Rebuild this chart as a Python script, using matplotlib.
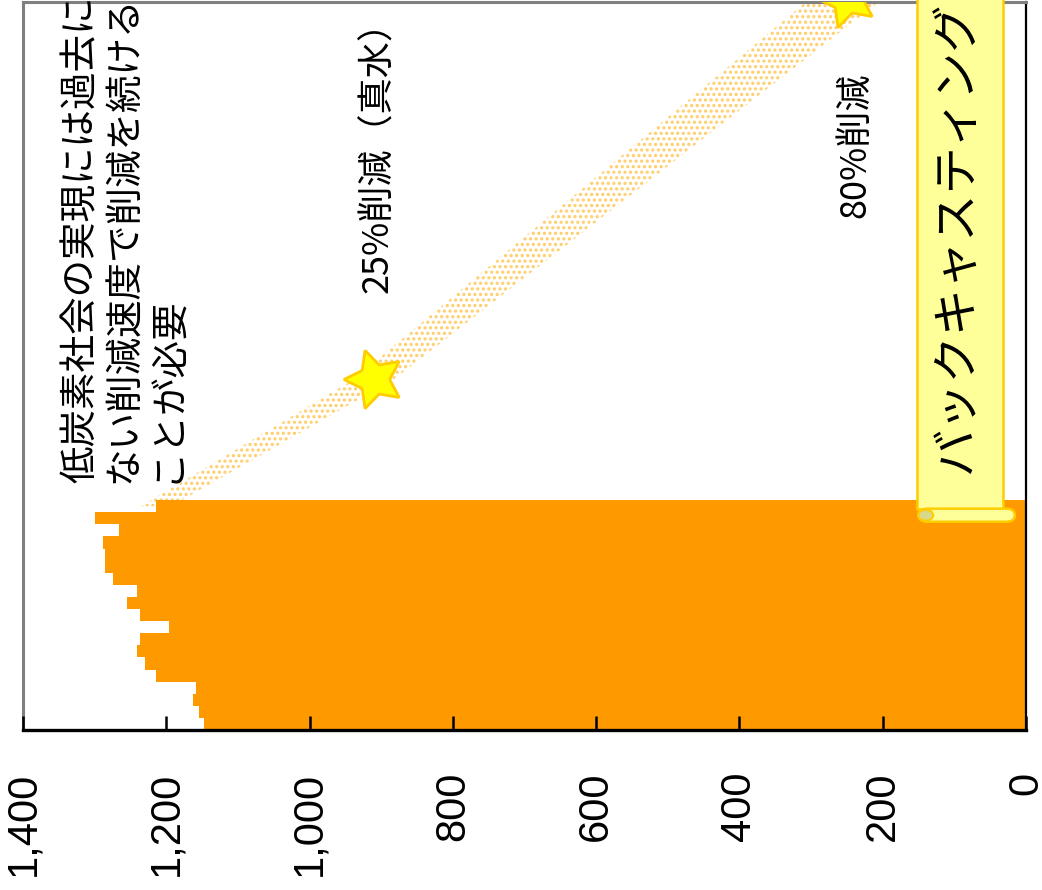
import numpy as np
import matplotlib
matplotlib.use("Agg")
import matplotlib.pyplot as plt
from matplotlib.patches import Rectangle, FancyBboxPatch, Polygon, Circle
from matplotlib.ticker import FuncFormatter

plt.rcParams['font.family'] = ['Liberation Sans', 'Noto Sans CJK JP']
plt.rcParams['hatch.linewidth'] = 1.5

# emissions per year (bars)
years = np.arange(1990, 2009)
emissions = [1147, 1154, 1163, 1158, 1214, 1230, 1241, 1237, 1196, 1237,
             1255, 1241, 1274, 1285, 1285, 1288, 1266, 1300, 1214]

# reduction path: last year -> 25% target -> 80% target
path_years = [2008, 2018.5, 2050]
path_values = [1214, 910, 250]
band_half = [21, 28, 51]

value_ticks = [0, 200, 400, 600, 800, 1000, 1200, 1400]

bar_color = '#FF9900'
dot_color = '#FFCC66'

fig = plt.figure(figsize=(10.42, 8.9), dpi=100)
ax = fig.add_axes([0.022, 0.1798, 0.9626, 0.818])
ax.set_axisbelow(False)

# dotted band along the reduction path
t = np.linspace(path_years[0], path_years[-1], 60)
c = np.interp(t, path_years, path_values)
hw = np.interp(t, path_years, band_half)
pts = np.concatenate([np.column_stack([c + hw, t]),
                      np.column_stack([c - hw, t])[::-1]])
ax.add_patch(Polygon(pts, closed=True, facecolor='none', edgecolor=dot_color,
                     linewidth=0, hatch='...', zorder=1))

ax.barh(years, emissions, height=1.0, color=bar_color, linewidth=0, zorder=2)

# target stars
ax.plot(path_values[1:], path_years[1:], linestyle='none', marker=(5, 1, 90),
        markersize=44, markerfacecolor='#FFFF00', markeredgecolor='#FFCC00',
        markeredgewidth=2, zorder=4)

ax.set_xlim(1400, 0)
ax.set_ylim(1989.5, 2049.7)
ax.set_yticks([])
ax.set_xticks(value_ticks)
ax.xaxis.set_major_formatter(FuncFormatter(lambda v, p: f'{int(v):,}'))
ax.tick_params(axis='x', direction='in', length=10, width=1.8, color='black',
               labelsize=30, pad=30, labelrotation=90)
for lab in ax.get_xticklabels():
    lab.set_va('top')

ax.spines['left'].set_color('#808080')
ax.spines['top'].set_color('#808080')
ax.spines['left'].set_linewidth(2.2)
ax.spines['top'].set_linewidth(2.2)
ax.spines['right'].set_color('black')
ax.spines['right'].set_linewidth(1.6)
ax.spines['bottom'].set_color('black')
ax.spines['bottom'].set_linewidth(2.4)

jp = ['Noto Sans CJK JP', 'DejaVu Sans']

ax.text(0.039, 0.339, '低炭素社会の実現には過去に\nない削減速度で削減を続ける\nことが必要',
        transform=ax.transAxes, rotation=90, ha='left', va='bottom',
        multialignment='left', fontsize=27, family=jp, linespacing=1.14,
        zorder=5)
ax.text(0.336, 0.600, '25%削減（真水）', transform=ax.transAxes, rotation=90,
        ha='left', va='bottom', fontsize=26, family=jp, zorder=5)
ax.text(0.8116, 0.7033, '80%削減', transform=ax.transAxes, rotation=90,
        ha='left', va='bottom', fontsize=26, family=jp, zorder=5)

# scroll banner
ax.add_patch(Rectangle((0.891, 0.3036), 0.086, 0.72, transform=ax.transAxes,
                       facecolor='#FFFF99', edgecolor='#FFCC00', linewidth=1.8,
                       clip_on=False, zorder=5))
ax.add_patch(FancyBboxPatch((0.893, 0.286), 0.096, 0.018,
                            boxstyle='round,pad=0,rounding_size=0.009',
                            transform=ax.transAxes, facecolor='#FFFF99',
                            edgecolor='#FFCC00', linewidth=1.8, clip_on=False,
                            mutation_aspect=1.0, zorder=6))
ax.add_patch(Circle((0.9, 0.295), 0.0075, transform=ax.transAxes,
                    facecolor='#D9D98C', edgecolor='#FFCC00', linewidth=1.5,
                    clip_on=False, zorder=7))
ax.text(0.9315, 0.677, 'バックキャスティング', transform=ax.transAxes, rotation=90,
        ha='center', va='center', fontsize=34, family=jp, zorder=8)

fig.savefig('out.png', dpi=100)
